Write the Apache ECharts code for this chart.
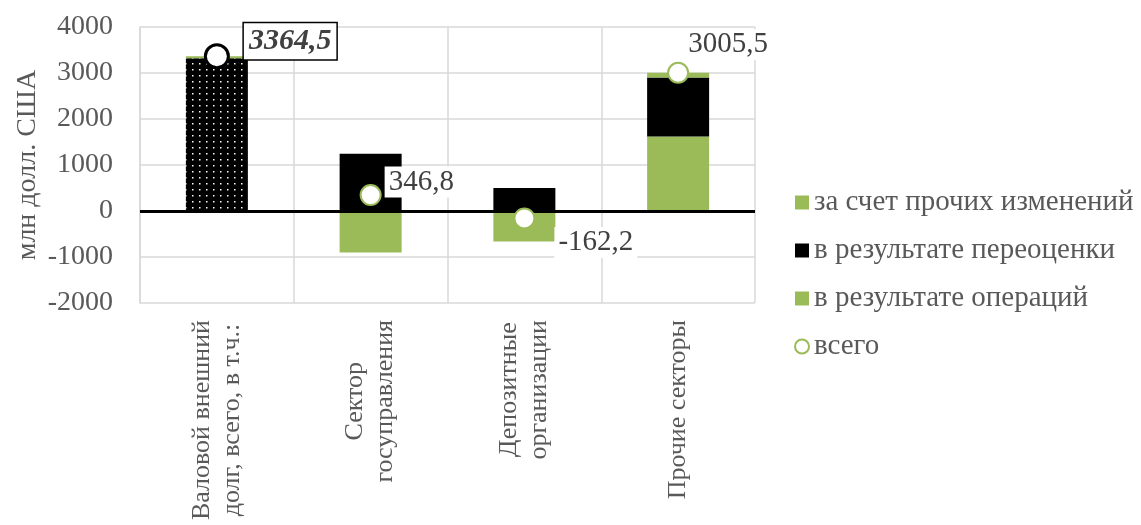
<!DOCTYPE html>
<html>
<head>
<meta charset="utf-8">
<script src="https://cdn.jsdelivr.net/npm/echarts@6/dist/echarts.min.js"></script>
<style>
  html, body { margin: 0; padding: 0; background: #fff; }
  #chart { width: 1141px; height: 525px; }
</style>
</head>
<body>
<div id="chart"></div>
<script>
// categories and values (млн долл. США)
const categories = [
  'Валовой внешний\nдолг, всего, в т.ч.:',
  'Сектор\nгосуправления',
  'Депозитные\nорганизации',
  'Прочие секторы'
];
const operations = [0, -900, -662.2, 1620];      // в результате операций
const revaluation = [3320, 1246.8, 500, 1280];  // в результате переоценки
const otherChanges = [44.5, 0, 0, 105.5];       // за счет прочих изменений
const totals = [3364.5, 346.8, -162.2, 3005.5]; // всего
const yTicks = [-2000, -1000, 0, 1000, 2000, 3000, 4000];

const GREEN = '#9BBB59';
const TEXT = '#595959';
const FONT = 'Liberation Serif';

// dotted fill for the first bar
const dots = document.createElement('canvas');
dots.width = 7;
dots.height = 6;
const dctx = dots.getContext('2d');
dctx.fillStyle = '#000';
dctx.fillRect(0, 0, 7, 6);
dctx.fillStyle = '#fff';
dctx.fillRect(3, 3, 1.5, 1.5);

const chart = echarts.init(document.getElementById('chart'));

const fmt = v => String(v).replace('.', ',');

const labelOffsets = [[0, -13], [0, -13], [16, 24], [-8, -28]];

const option = {
  animation: false,
  textStyle: { fontFamily: FONT },
  grid: { left: 140, right: 386, top: 27, bottom: 222 },
  legend: {
    orient: 'vertical',
    left: 789,
    top: 183,
    itemWidth: 14,
    itemHeight: 14,
    itemGap: 19,
    textStyle: { fontFamily: FONT, fontSize: 29, color: TEXT },
    data: [
      { name: 'за счет прочих изменений', icon: 'rect' },
      { name: 'в результате переоценки', icon: 'rect' },
      { name: 'в результате операций', icon: 'rect' },
      { name: 'всего', icon: 'circle' }
    ]
  },
  xAxis: {
    type: 'category',
    data: categories,
    axisLine: { onZero: false, show: false },
    axisTick: { show: false },
    splitLine: { show: true, interval: 0, lineStyle: { color: '#d9d9d9', width: 1.5 } },
    axisLabel: {
      rotate: 90,
      interval: 0,
      margin: 17,
      color: TEXT,
      fontFamily: FONT,
      fontSize: 26,
      lineHeight: 30,
      formatter: v => v.split('\n').map(s => '{c|' + s + '}').join('\n'),
      rich: { c: { align: 'center', fontFamily: FONT, fontSize: 26, color: TEXT, lineHeight: 30 } }
    }
  },
  yAxis: {
    type: 'value',
    min: yTicks[0],
    max: yTicks[yTicks.length - 1],
    interval: 1000,
    name: 'млн долл. США',
    nameLocation: 'middle',
    nameGap: 98,
    nameMoveOverlap: false,
    nameTextStyle: { fontFamily: FONT, fontSize: 28, color: TEXT },
    axisLine: { show: true, lineStyle: { color: '#d9d9d9', width: 1.5 } },
    axisTick: { show: false },
    axisLabel: { color: TEXT, fontFamily: FONT, fontSize: 28, margin: 27, formatter: v => String(v) },
    splitLine: { lineStyle: { color: '#d9d9d9', width: 1.5 } }
  },
  series: [
    {
      name: 'в результате операций',
      type: 'bar',
      stack: 'all',
      barWidth: 62,
      itemStyle: { color: GREEN },
      data: operations,
      markLine: {
        silent: true,
        symbol: 'none',
        label: { show: false },
        lineStyle: { color: '#000', width: 3, type: 'solid' },
        data: [{ yAxis: 0 }],
        z: 5
      }
    },
    {
      name: 'в результате переоценки',
      type: 'bar',
      stack: 'all',
      barWidth: 62,
      itemStyle: { color: '#000' },
      data: revaluation.map((v, i) => i === 0
        ? { value: v, itemStyle: { color: { image: dots, repeat: 'repeat' } } }
        : v)
    },
    {
      name: 'за счет прочих изменений',
      type: 'bar',
      stack: 'all',
      barWidth: 62,
      itemStyle: { color: GREEN },
      data: otherChanges
    },
    {
      name: 'всего',
      type: 'scatter',
      z: 10,
      symbolSize: 20,
      itemStyle: { color: '#fff', borderColor: GREEN, borderWidth: 2, opacity: 1 },
      label: {
        show: true,
        position: 'right',
        distance: 3,
        color: '#404040',
        fontFamily: FONT,
        fontSize: 29,
        backgroundColor: '#fff',
        padding: [1, 4],
        formatter: p => fmt(p.value)
      },
      data: totals.map((v, i) => {
        const item = { value: v, label: { offset: labelOffsets[i] } };
        if (i === 0) {
          item.symbolSize = 23;
          item.itemStyle = { borderColor: '#000', borderWidth: 3 };
          item.label = {
            offset: [11, -15],
            fontWeight: 'bold',
            fontStyle: 'italic',
            fontSize: 30,
            borderColor: '#000',
            borderWidth: 1.5,
            padding: [4, 5, 2, 5]
          };
        }
        return item;
      })
    }
  ]
};

chart.setOption(option);
window.addEventListener('resize', () => chart.resize());
</script>
</body>
</html>
